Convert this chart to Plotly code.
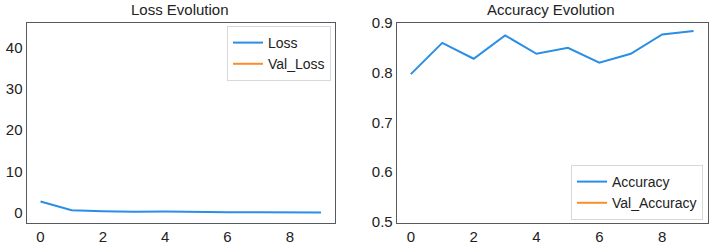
import plotly.graph_objects as go

epochs = list(range(10))
loss = [2.8, 0.7, 0.45, 0.3, 0.35, 0.2, 0.22, 0.2, 0.18, 0.15]
val_loss = [None] * 10
accuracy = [0.797, 0.860, 0.828, 0.875, 0.838, 0.850, 0.820, 0.838, 0.877, 0.884]
val_accuracy = [None] * 10

BLUE = "#2a8ee6"
ORANGE = "#ff8c2a"
FONT = "Liberation Sans, Arial, sans-serif"
W, H = 712, 247

fig = go.Figure()
fig.add_trace(go.Scatter(x=epochs, y=loss, mode="lines", name="Loss",
                         line=dict(color=BLUE, width=2), xaxis="x", yaxis="y", legend="legend"))
fig.add_trace(go.Scatter(x=epochs, y=val_loss, mode="lines", name="Val_Loss",
                         line=dict(color=ORANGE, width=2), xaxis="x", yaxis="y", legend="legend",
                         showlegend=True))
fig.add_trace(go.Scatter(x=epochs, y=accuracy, mode="lines", name="Accuracy",
                         line=dict(color=BLUE, width=2), xaxis="x2", yaxis="y2", legend="legend2"))
fig.add_trace(go.Scatter(x=epochs, y=val_accuracy, mode="lines", name="Val_Accuracy",
                         line=dict(color=ORANGE, width=2), xaxis="x2", yaxis="y2", legend="legend2",
                         showlegend=True))

axis_common = dict(showline=True, linecolor="#555a60", linewidth=1, mirror=True,
                   showgrid=False, zeroline=False, ticks="", automargin=False,
                   tickfont=dict(family=FONT, size=15, color="#222"))

legend_common = dict(bgcolor="white", bordercolor="#d8d8d8", borderwidth=1,
                     font=dict(family=FONT, size=14, color="#222"),
                     tracegroupgap=0, itemwidth=30)

fig.update_layout(
    template="none",
    width=W, height=H,
    margin=dict(l=0, r=0, t=0, b=0, autoexpand=False),
    paper_bgcolor="white", plot_bgcolor="white",
    font=dict(family=FONT, color="#222"),
    showlegend=True,
    xaxis=dict(domain=[26.5 / W, 335 / W], range=[-0.45, 9.45], tickvals=[0, 2, 4, 6, 8],
               anchor="y", **axis_common),
    yaxis=dict(domain=[(H - 223) / H, (H - 22.5) / H], range=[-2.4, 46],
               tickvals=[0, 10, 20, 30, 40], anchor="x", **axis_common),
    xaxis2=dict(domain=[396.7 / W, 707.7 / W], range=[-0.45, 9.45], tickvals=[0, 2, 4, 6, 8],
                anchor="y2", **axis_common),
    yaxis2=dict(domain=[(H - 223) / H, (H - 22.5) / H], range=[0.497, 0.901],
                tickvals=[0.5, 0.6, 0.7, 0.8, 0.9], tickformat=".1f", anchor="x2", **axis_common),
    legend=dict(x=331 / W, y=(H - 26) / H, xanchor="right", yanchor="top", **legend_common),
    legend2=dict(x=703 / W, y=(H - 220) / H, xanchor="right", yanchor="bottom", **legend_common),
    annotations=[
        dict(text="Loss Evolution", x=180 / W, y=(H - 9) / H, xref="paper", yref="paper",
             xanchor="center", yanchor="middle", showarrow=False,
             font=dict(family=FONT, size=15, color="#222")),
        dict(text="Accuracy Evolution", x=551 / W, y=(H - 9) / H, xref="paper", yref="paper",
             xanchor="center", yanchor="middle", showarrow=False,
             font=dict(family=FONT, size=15, color="#222")),
    ],
)

fig.write_html("out.html",
               config={"displayModeBar": False},
               post_script="document.body.style.margin='0';document.body.style.padding='0';")
